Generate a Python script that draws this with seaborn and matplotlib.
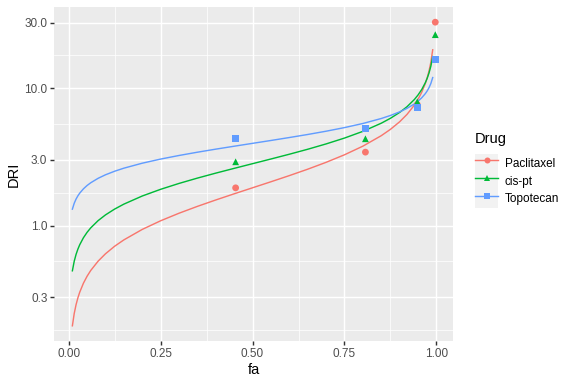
import numpy as np
import pandas as pd
import matplotlib
matplotlib.use("Agg")
import matplotlib.pyplot as plt
import seaborn as sns
from matplotlib.lines import Line2D
from matplotlib.patches import Rectangle
from matplotlib.legend_handler import HandlerLine2D
from matplotlib.ticker import FixedLocator, NullFormatter

# ---------------- data ----------------
drugs = ["Paclitaxel", "cis-pt", "Topotecan"]
colors = ["#F8766D", "#00BA38", "#619CFF"]
markers = ["o", "^", "s"]

# fitted DRI curves
curve_fa = [0.010, 0.015, 0.020, 0.025, 0.030, 0.040, 0.050, 0.060, 0.080, 0.100,
            0.125, 0.150, 0.200, 0.250, 0.300, 0.350, 0.400, 0.450, 0.500, 0.550,
            0.600, 0.650, 0.700, 0.750, 0.800, 0.850, 0.875, 0.900, 0.920, 0.940,
            0.950, 0.960, 0.970, 0.975, 0.980, 0.985, 0.990]
curve_paclitaxel = [0.1862, 0.2289, 0.2653, 0.2976, 0.3270, 0.3800, 0.4274, 0.4710, 0.5502, 0.6225,
                    0.7067, 0.7857, 0.9365, 1.0824, 1.2284, 1.3780, 1.5341, 1.7007, 1.8818, 2.0816,
                    2.3076, 2.5692, 2.8827, 3.2711, 3.7801, 4.5050, 5.0107, 5.6860, 6.4343, 7.5162,
                    8.2828, 9.3161, 10.824, 11.898, 13.350, 15.466, 19.011]
curve_cispt = [0.4680, 0.5494, 0.6161, 0.6735, 0.7246, 0.8141, 0.8920, 0.9618, 1.0852, 1.1943,
               1.3175, 1.4307, 1.6395, 1.8342, 2.0241, 2.2131, 2.4059, 2.6056, 2.8184, 3.0486,
               3.3021, 3.5892, 3.9247, 4.3292, 4.8441, 5.5525, 6.0298, 6.6527, 7.3201, 8.2580,
               8.9057, 9.7566, 10.962, 11.797, 12.897, 14.460, 16.978]
curve_topotecan = [1.3156, 1.4521, 1.5575, 1.6451, 1.7207, 1.8483, 1.9554, 2.0479, 2.2057, 2.3393,
                   2.4840, 2.6137, 2.8414, 3.0445, 3.2336, 3.4158, 3.5957, 3.7766, 3.9628, 4.1582,
                   4.3685, 4.5973, 4.8568, 5.1595, 5.5271, 6.0091, 6.3223, 6.7137, 7.1209, 7.6673,
                   8.0316, 8.4960, 9.1245, 9.5435, 10.081, 10.814, 11.937]

# observed points
pts_paclitaxel_fa = [0.454, 0.807, 0.948, 0.997]
pts_paclitaxel_dri = [1.88, 3.42, 7.6, 30.2]
pts_cispt_fa = [0.454, 0.807, 0.948, 0.997]
pts_cispt_dri = [2.91, 4.28, 7.95, 24.5]
pts_topotecan_fa = [0.454, 0.807, 0.948, 0.997]
pts_topotecan_dri = [4.27, 5.06, 7.27, 16.1]

y_ticks = [0.3, 1.0, 3.0, 10.0, 30.0]
y_ticklabels = ["0.3", "1.0", "3.0", "10.0", "30.0"]
x_ticks = [0.0, 0.25, 0.5, 0.75, 1.0]
x_ticklabels = ["0.00", "0.25", "0.50", "0.75", "1.00"]

curves = pd.concat([
    pd.DataFrame({"fa": curve_fa, "DRI": curve_paclitaxel, "Drug": drugs[0]}),
    pd.DataFrame({"fa": curve_fa, "DRI": curve_cispt, "Drug": drugs[1]}),
    pd.DataFrame({"fa": curve_fa, "DRI": curve_topotecan, "Drug": drugs[2]}),
], ignore_index=True)
points = pd.concat([
    pd.DataFrame({"fa": pts_paclitaxel_fa, "DRI": pts_paclitaxel_dri, "Drug": drugs[0]}),
    pd.DataFrame({"fa": pts_cispt_fa, "DRI": pts_cispt_dri, "Drug": drugs[1]}),
    pd.DataFrame({"fa": pts_topotecan_fa, "DRI": pts_topotecan_dri, "Drug": drugs[2]}),
], ignore_index=True)

# ---------------- style ----------------
plt.rcParams["font.family"] = ["Liberation Sans", "DejaVu Sans"]
fig = plt.figure(figsize=(6, 4), dpi=96)
ax = fig.add_axes([54 / 576, 1 - 341 / 384, (453.3 - 54) / 576, (341 - 7) / 384])
ax.set_facecolor("#EBEBEB")
for s in ax.spines.values():
    s.set_visible(False)

palette = dict(zip(drugs, colors))
sns.lineplot(data=curves, x="fa", y="DRI", hue="Drug", palette=palette, ax=ax,
             linewidth=1.07, legend=False, sort=False, estimator=None, zorder=3)
sns.scatterplot(data=points, x="fa", y="DRI", hue="Drug", style="Drug",
                markers=dict(zip(drugs, markers)), palette=palette, ax=ax,
                s=26, linewidth=0, legend=False, zorder=4)

ax.set_yscale("log")
ax.set_xlim(-0.040, 1.046)
ax.set_ylim(0.1443, 38.95)

ax.yaxis.set_major_locator(FixedLocator(y_ticks))
ax.set_yticklabels(y_ticklabels)
minor_y = [np.sqrt(y_ticks[i] * y_ticks[i + 1]) for i in range(len(y_ticks) - 1)]
minor_y = [np.sqrt(0.1 * 0.3)] + minor_y
ax.yaxis.set_minor_locator(FixedLocator(minor_y))
ax.yaxis.set_minor_formatter(NullFormatter())
ax.set_xticks(x_ticks)
ax.set_xticklabels(x_ticklabels)
ax.xaxis.set_minor_locator(FixedLocator([0.125, 0.375, 0.625, 0.875]))

ax.grid(which="major", color="white", linewidth=1.07, zorder=0)
ax.grid(which="minor", color="white", linewidth=0.53, zorder=0)
ax.set_axisbelow(True)
ax.tick_params(which="major", length=2.75, width=1.07, color="#333333",
               labelsize=8.8, labelcolor="#4D4D4D", pad=2.2)
ax.tick_params(which="minor", length=0)

ax.set_xlabel("fa", fontsize=11, color="black", labelpad=2.75)
ax.set_ylabel("DRI", fontsize=11, color="black", labelpad=2.75)


class KeyHandler(HandlerLine2D):
    def create_artists(self, legend, orig_handle, xdescent, ydescent, width, height, fontsize, trans):
        bg = Rectangle((-xdescent, -ydescent), width, height, facecolor="#F2F2F2",
                       edgecolor="none", transform=trans)
        arts = super().create_artists(legend, orig_handle, xdescent, ydescent, width, height, fontsize, trans)
        return [bg] + list(arts)


handles = [Line2D([], [], color=c, marker=m, markersize=4.5, linewidth=1.07, markeredgewidth=0)
           for c, m in zip(colors, markers)]
leg = fig.legend(handles, drugs, title="Drug", loc="upper left",
                 bbox_to_anchor=(475 / 576, 1 - 132 / 384), frameon=False,
                 fontsize=8.8, title_fontsize=11, borderpad=0, borderaxespad=0,
                 handlelength=1.97, handleheight=1.97, labelspacing=0, handletextpad=0.55,
                 alignment="left", numpoints=1,
                 handler_map={Line2D: KeyHandler()})
leg._legend_box.sep = 6

fig.savefig("out.png", dpi=96)
